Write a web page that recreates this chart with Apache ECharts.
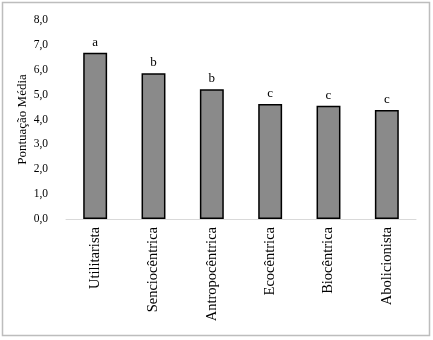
<!DOCTYPE html>
<html>
<head>
<meta charset="utf-8">
<script src="https://cdn.jsdelivr.net/npm/echarts@6/dist/echarts.min.js"></script>
<style>
  html, body { margin: 0; padding: 0; background: #fff; }
  #chart { width: 433px; height: 340px; }
</style>
</head>
<body>
<div id="chart"></div>
<script>
const categories = ['Utilitarista', 'Senciocêntrica', 'Antropocêntrica', 'Ecocêntrica', 'Biocêntrica', 'Abolicionista']
const scores = [6.68, 5.86, 5.22, 4.62, 4.55, 4.38]
const groups = ['a', 'b', 'b', 'c', 'c', 'c']

const font = '"Liberation Serif", "Times New Roman", serif'

const chart = echarts.init(document.getElementById('chart'))

const option = {
  backgroundColor: '#fff',
  animation: false,
  // moldura cinza
  graphic: [{
    type: 'rect',
    shape: { x: 2.5, y: 2.5, width: 427, height: 333 },
    style: { fill: 'none', stroke: '#bdbdbd', lineWidth: 1.5 }
  }],
  grid: { left: 66, right: 17, top: 20, bottom: 121 },
  xAxis: {
    type: 'category',
    data: categories,
    axisLine: { lineStyle: { color: '#d9d9d9', width: 1 } },
    axisTick: { show: false },
    axisLabel: {
      rotate: 90,
      color: '#000',
      fontFamily: font,
      fontSize: 14.5,
      margin: 8
    }
  },
  yAxis: {
    type: 'value',
    min: 0,
    max: 8,
    interval: 1,
    name: 'Pontuação Média',
    nameLocation: 'middle',
    nameGap: 37,
    nameMoveOverlap: false,
    nameTextStyle: { color: '#000', fontFamily: font, fontSize: 13 },
    axisLine: { show: false },
    axisTick: { show: false },
    splitLine: { show: false },
    axisLabel: {
      color: '#000',
      fontFamily: font,
      fontSize: 11.5,
      margin: 18,
      formatter: v => v.toFixed(1).replace('.', ',')
    }
  },
  series: [{
    type: 'bar',
    data: scores,
    barWidth: '41%',
    itemStyle: { color: '#8a8a8a', borderColor: '#000', borderWidth: 1.5 },
    label: {
      show: true,
      position: 'top',
      distance: 4,
      color: '#000',
      fontFamily: font,
      fontSize: 13,
      formatter: p => groups[p.dataIndex]
    }
  }]
}

chart.setOption(option)
</script>
</body>
</html>
